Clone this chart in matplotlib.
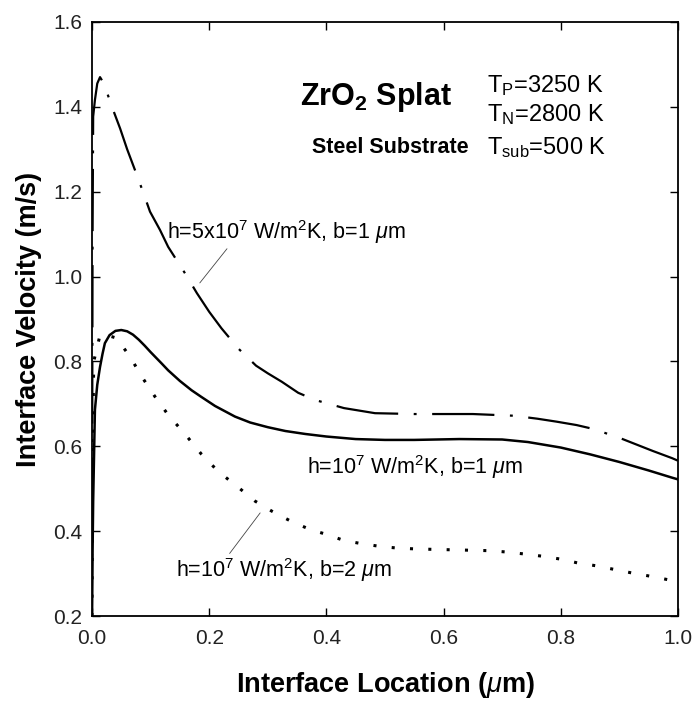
import matplotlib
matplotlib.use("Agg")
import matplotlib.pyplot as plt

plt.rcParams['font.family'] = ['Liberation Sans', 'DejaVu Sans']
plt.rcParams['mathtext.fontset'] = 'custom'
plt.rcParams['mathtext.rm'] = 'Liberation Sans'
plt.rcParams['mathtext.it'] = 'Liberation Sans:italic'
plt.rcParams['mathtext.bf'] = 'Liberation Sans:bold'

# h=5e7 W/m2K, b=1 um
loc_h5_b1 = [0.0, 0.0005, 0.001, 0.002, 0.005, 0.009, 0.0137, 0.019, 0.025, 0.036, 0.048,
             0.06, 0.075, 0.088, 0.099, 0.116, 0.13, 0.16, 0.179, 0.2, 0.221, 0.25, 0.28,
             0.3, 0.324, 0.352, 0.381, 0.43, 0.483, 0.55, 0.6, 0.65, 0.72, 0.76, 0.793,
             0.827, 0.855, 0.9, 0.957, 0.99, 1.0]
vel_h5_b1 = [0.2, 0.7, 1.1, 1.377, 1.416, 1.455, 1.47, 1.458, 1.436, 1.393, 1.349,
             1.30, 1.245, 1.196, 1.153, 1.11, 1.07, 1.005, 0.961, 0.917, 0.878, 0.83, 0.79,
             0.772, 0.752, 0.726, 0.709, 0.69, 0.678, 0.676, 0.676, 0.676, 0.672, 0.665, 0.658,
             0.650, 0.641, 0.62, 0.589, 0.572, 0.566]

# h=1e7 W/m2K, b=1 um
loc_h1_b1 = [0.0, 0.001, 0.002, 0.005, 0.009, 0.0137, 0.018, 0.022, 0.03, 0.04, 0.05,
             0.06, 0.07, 0.08, 0.09, 0.1, 0.119, 0.13, 0.15, 0.17, 0.187, 0.21, 0.244,
             0.27, 0.3, 0.33, 0.364, 0.4, 0.45, 0.5, 0.55, 0.627, 0.7, 0.744, 0.8,
             0.85, 0.9, 0.95, 0.99, 1.0]
vel_h1_b1 = [0.2, 0.35, 0.47, 0.686, 0.745, 0.787, 0.818, 0.843, 0.862, 0.872, 0.874,
             0.871, 0.863, 0.851, 0.837, 0.822, 0.795, 0.779, 0.754, 0.732, 0.716, 0.695, 0.67,
             0.656, 0.645, 0.636, 0.629, 0.623, 0.617, 0.615, 0.615, 0.617, 0.616, 0.61, 0.597,
             0.581, 0.563, 0.543, 0.526, 0.522]

# h=1e7 W/m2K, b=2 um
loc_h1_b2 = [0.0, 0.001, 0.003, 0.0137, 0.025, 0.042, 0.065, 0.085, 0.1075, 0.13, 0.158,
             0.187, 0.216, 0.249, 0.278, 0.307, 0.34, 0.372, 0.401, 0.43, 0.462, 0.492,
             0.522, 0.554, 0.615, 0.677, 0.706, 0.739, 0.768, 0.8, 0.829, 0.862, 0.894,
             0.923, 0.956, 0.985, 1.0]
vel_h1_b2 = [0.2, 0.6, 0.8, 0.862, 0.862, 0.855, 0.811, 0.764, 0.717, 0.674, 0.63,
             0.581, 0.54, 0.504, 0.471, 0.447, 0.423, 0.404, 0.392, 0.378, 0.37, 0.364,
             0.36, 0.358, 0.356, 0.354, 0.351, 0.346, 0.341, 0.334, 0.325, 0.318, 0.309,
             0.301, 0.293, 0.285, 0.282]

xticks = [0.0, 0.2, 0.4, 0.6, 0.8, 1.0]
yticks = [0.2, 0.4, 0.6, 0.8, 1.0, 1.2, 1.4, 1.6]

fig = plt.figure(figsize=(6.99, 7.02), dpi=100)
ax = fig.add_axes([0.1316, 0.1225, 0.8383, 0.8462])

ax.plot(loc_h5_b1, vel_h5_b1, color='black', lw=1.6,
        linestyle=(0, (28, 7, 1.3, 7)), solid_capstyle='butt', dash_capstyle='butt')
ax.plot(loc_h1_b1, vel_h1_b1, color='black', lw=1.8)
ax.plot(loc_h1_b2, vel_h1_b2, color='black', lw=2.2,
        linestyle=(0, (1, 5)), dash_capstyle='butt')

ax.set_xlim(0, 1.0)
ax.set_ylim(0.2, 1.6)
ax.set_xticks(xticks)
ax.set_yticks(yticks)
ax.set_xticklabels([f"{t:.1f}" for t in xticks])
ax.set_yticklabels([f"{t:.1f}" for t in yticks])
ax.tick_params(direction='in', length=6, width=1, labelsize=15,
               top=True, right=True, pad=7, labelcolor='#222222')
ax.tick_params(axis='x', pad=9)
for sp in ax.spines.values():
    sp.set_linewidth(1.3)

ax.set_xlabel(r"Interface Location ($\mu$m)", fontsize=19.5, fontweight='bold', labelpad=16)
ax.set_ylabel("Interface Velocity (m/s)", fontsize=19.5, fontweight='bold', labelpad=8)

# figure annotations
ax.text(0.355, 1.423, r"ZrO$\mathregular{_{\mathbf{2}}}$ Splat", fontsize=22,
        fontweight='bold', va='center', ha='left')
ax.text(0.376, 1.303, "Steel Substrate", fontsize=15.5, fontweight='bold',
        va='center', ha='left')
ax.text(0.674, 1.451, r"T$_\mathrm{P}$=3250 K", fontsize=17, va='center', ha='left')
ax.text(0.674, 1.381, r"T$_\mathrm{N}$=2800 K", fontsize=17, va='center', ha='left')
ax.text(0.674, 1.303, r"T$_\mathrm{sub}$=500 K", fontsize=17, va='center', ha='left')

ax.annotate(r"h=5x10$^7$ W/m$^2$K, b=1 $\mu$m", xy=(0.184, 0.985), xytext=(0.128, 1.105),
            fontsize=15.5, va='center', ha='left',
            arrowprops=dict(arrowstyle='-', lw=0.6, color='#444444',
                            relpos=(0.27, 0.1), shrinkA=0, shrinkB=0))
ax.text(0.367, 0.552, r"h=10$^7$ W/m$^2$K, b=1 $\mu$m", fontsize=15.5, va='center', ha='left')
ax.annotate(r"h=10$^7$ W/m$^2$K, b=2 $\mu$m", xy=(0.287, 0.443), xytext=(0.143, 0.308),
            fontsize=15.5, va='center', ha='left',
            arrowprops=dict(arrowstyle='-', lw=0.6, color='#444444',
                            relpos=(0.23, 0.9), shrinkA=0, shrinkB=0))

fig.savefig("out.png", dpi=100)
